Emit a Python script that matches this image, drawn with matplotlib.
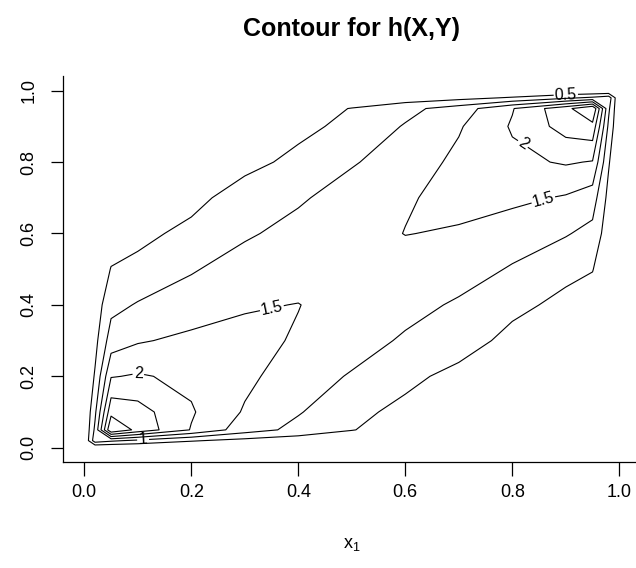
import numpy as np
import matplotlib
matplotlib.use('Agg')
import matplotlib.pyplot as plt

plt.rcParams['font.family'] = ['Liberation Sans', 'DejaVu Sans']

# grid points (same for x1 and y)
grid = [0, 0.02, 0.05, 0.1, 0.2, 0.3, 0.4, 0.5, 0.6, 0.7, 0.8, 0.9, 0.95, 0.98, 1.0]

# h(X,Y); rows = y, columns = x
h_values = [
    [0, 0, 0, 0, 0, 0, 0, 0, 0, 0, 0, 0, 0, 0, 0],
    [0, 1.3, 1.1, 0.9, 0.55, 0.35, 0.22, 0.12, 0.07, 0.04, 0.02, 0.01, 0.005, 0.0, 0],
    [0, 1.1, 3.5, 2.85, 1.97, 1.24, 0.85, 0.52, 0.26, 0.12, 0.05, 0.02, 0.01, 0.005, 0],
    [0, 0.9, 2.85, 2.7, 2.05, 1.45, 1.04, 0.62, 0.38, 0.2, 0.08, 0.03, 0.02, 0.01, 0],
    [0, 0.55, 1.97, 2.05, 1.88, 1.62, 1.22, 0.96, 0.62, 0.36, 0.2, 0.08, 0.05, 0.02, 0],
    [0, 0.35, 1.24, 1.45, 1.62, 1.62, 1.46, 1.2, 0.94, 0.72, 0.36, 0.2, 0.12, 0.04, 0],
    [0, 0.22, 0.85, 1.04, 1.22, 1.46, 1.51, 1.32, 1.15, 0.94, 0.62, 0.38, 0.26, 0.07, 0],
    [0, 0.12, 0.52, 0.62, 0.96, 1.2, 1.32, 1.42, 1.32, 1.2, 0.96, 0.62, 0.52, 0.12, 0],
    [0, 0.07, 0.26, 0.38, 0.62, 0.94, 1.15, 1.32, 1.51, 1.46, 1.22, 1.04, 0.85, 0.22, 0],
    [0, 0.04, 0.12, 0.2, 0.36, 0.72, 0.94, 1.2, 1.46, 1.62, 1.62, 1.45, 1.24, 0.35, 0],
    [0, 0.02, 0.05, 0.08, 0.2, 0.36, 0.62, 0.96, 1.22, 1.62, 1.88, 2.05, 1.97, 0.55, 0],
    [0, 0.01, 0.02, 0.03, 0.08, 0.2, 0.38, 0.62, 1.04, 1.45, 2.05, 2.7, 2.85, 0.9, 0],
    [0, 0.005, 0.01, 0.02, 0.05, 0.12, 0.26, 0.52, 0.85, 1.24, 1.97, 2.85, 3.5, 1.1, 0],
    [0, 0.0, 0.005, 0.01, 0.02, 0.04, 0.07, 0.12, 0.22, 0.35, 0.55, 0.9, 1.1, 1.3, 0],
    [0, 0, 0, 0, 0, 0, 0, 0, 0, 0, 0, 0, 0, 0, 0],
]

levels = [0.5, 1, 1.5, 2, 2.5, 3]
ticks = [0.0, 0.2, 0.4, 0.6, 0.8, 1.0]

# where the level labels sit
label_spots = [(0.35, 0.395), (0.1, 0.2), (0.855, 0.71), (0.815, 0.84),
               (0.9, 0.99), (0.11, 0.02)]

fig = plt.figure(figsize=(6.36, 5.68), dpi=100)
ax = fig.add_axes([62.9 / 636, 106 / 568, 577.8 / 636, 385.6 / 568])

X, Y = np.meshgrid(grid, grid)
Z = np.array(h_values)
cs = ax.contour(X, Y, Z, levels=levels, colors='black', linewidths=0.8)
ax.clabel(cs, fmt='%g', fontsize=11.5, inline=True, inline_spacing=2, manual=label_spots)

ax.set_xlim(-0.04, 1.04)
ax.set_ylim(-0.04, 1.04)
ax.spines['top'].set_visible(False)
ax.spines['right'].set_visible(False)
for s in ['left', 'bottom']:
    ax.spines[s].set_linewidth(0.9)

ax.set_xticks(ticks)
ax.set_yticks(ticks)
ax.set_xticklabels(['%.1f' % t for t in ticks])
ax.set_yticklabels(['%.1f' % t for t in ticks], rotation=90, va='center')
ax.tick_params(axis='x', length=10, width=0.9, labelsize=13, pad=6)
ax.tick_params(axis='y', length=8.5, width=0.9, labelsize=13, pad=10)

ax.set_xlabel(r'$\mathregular{x_1}$', fontsize=13, labelpad=25)
ax.set_title('Contour for h(X,Y)', fontsize=18, fontweight='bold', pad=29)

fig.savefig('out.png', dpi=100)
